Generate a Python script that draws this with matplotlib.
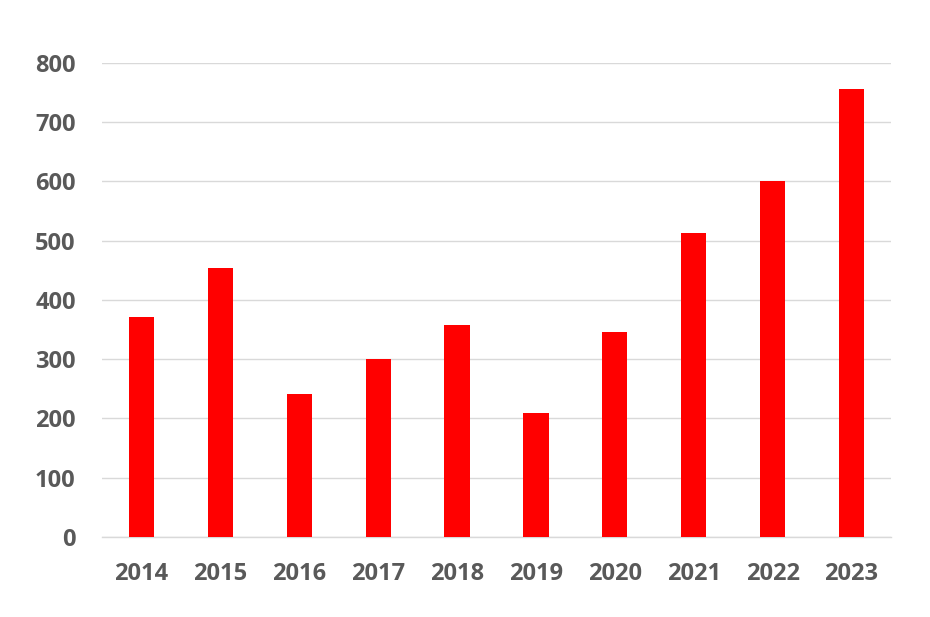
import matplotlib
matplotlib.use("Agg")
import matplotlib.pyplot as plt

years = ["2014", "2015", "2016", "2017", "2018", "2019", "2020", "2021", "2022", "2023"]
values = [371, 454, 241, 300, 357, 209, 346, 513, 601, 756]
yticks = [0, 100, 200, 300, 400, 500, 600, 700, 800]

plt.rcParams['font.family'] = ['Open Sans', 'DejaVu Sans']

fig = plt.figure(figsize=(9.3, 6.17), dpi=100)
ax = fig.add_axes([0.1097, 0.1297, 0.8483, 0.7683])

x = range(len(years))
ax.bar(x, values, width=0.32, color="#ff0000", zorder=3)

ax.set_xlim(-0.5, len(years) - 0.5)
ax.set_ylim(0, 800)
ax.set_yticks(yticks)
ax.set_xticks(list(x))
ax.set_xticklabels(years)
ax.grid(axis='y', color="#d9d9d9", linewidth=1, zorder=0)
for s in ["top", "right", "left"]:
    ax.spines[s].set_visible(False)
ax.spines["bottom"].set_color("#d9d9d9")
ax.spines["bottom"].set_linewidth(1)
ax.tick_params(axis='both', length=0, labelsize=17, labelcolor="#595959")
ax.tick_params(axis='y', pad=19)
ax.tick_params(axis='x', pad=18)
for lbl in ax.get_xticklabels() + ax.get_yticklabels():
    lbl.set_fontweight("bold")

fig.savefig("out.png", dpi=100)
